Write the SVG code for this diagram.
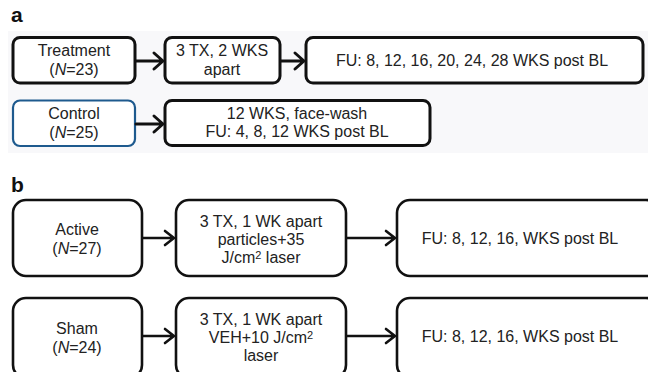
<svg xmlns="http://www.w3.org/2000/svg" width="648" height="372" viewBox="0 0 648 372">
<defs>
<style>
.bg{fill:#ffffff}
.pa{fill:#f8f8fa}
.box{fill:#ffffff;stroke:#111111;stroke-width:3}
.boxb{fill:#ffffff;stroke:#1e5a8e;stroke-width:2.2}
.bbox{fill:#ffffff;stroke:#111111;stroke-width:2.6}
.t{font-family:"Liberation Sans",Arial,sans-serif;font-size:16px;fill:#222222;text-anchor:middle}
.lbl{font-family:"Liberation Sans",Arial,sans-serif;font-size:21px;font-weight:bold;fill:#111111}
.con{fill:none;stroke:#111111;stroke-width:3;stroke-linecap:round;stroke-linejoin:round}
.conb{fill:none;stroke:#111111;stroke-width:2.6;stroke-linecap:round;stroke-linejoin:round}
</style>
</defs>
<rect class="bg" x="0" y="0" width="648" height="372"/>
<rect class="pa" x="8" y="31" width="640" height="122"/>
<text class="lbl" x="11" y="22">a</text>
<text class="lbl" x="11" y="192">b</text>

<g id="treatment"><rect class="box" x="13" y="37.5" width="122" height="45.5" rx="7"/>
<text class="t" x="74" y="56">Treatment</text>
<text class="t" x="74" y="75">(<tspan font-style="italic">N</tspan>=23)</text></g>
<g id="tx2wks"><rect class="box" x="165" y="37.5" width="115" height="45.5" rx="7"/>
<text class="t" x="222" y="56">3 TX, 2 WKS</text>
<text class="t" x="222" y="75">apart</text></g>
<g id="fu-a1"><rect class="box" x="306" y="37.5" width="337" height="45.5" rx="7"/>
<text class="t" x="472" y="66">FU: 8, 12, 16, 20, 24, 28 WKS post BL</text></g>
<g id="control"><rect class="boxb" x="13" y="100.5" width="122" height="45.5" rx="7"/>
<text class="t" x="74" y="119">Control</text>
<text class="t" x="74" y="138">(<tspan font-style="italic">N</tspan>=25)</text></g>
<g id="facewash"><rect class="box" x="165" y="100.5" width="265" height="45" rx="7"/>
<text class="t" x="297" y="119">12 WKS, face-wash</text>
<text class="t" x="297" y="137">FU: 4, 8, 12 WKS post BL</text></g>

<g id="active"><rect class="bbox" x="13" y="200" width="129" height="76" rx="13"/>
<text class="t" x="77" y="235">Active</text>
<text class="t" x="77" y="254">(<tspan font-style="italic">N</tspan>=27)</text></g>
<g id="active-tx"><rect class="bbox" x="176" y="200" width="170" height="76" rx="13"/>
<text class="t" x="261" y="227">3 TX, 1 WK apart</text>
<text class="t" x="261" y="245">particles+35</text>
<text class="t" x="261" y="263">J/cm<tspan font-size="11" dy="-4">2</tspan><tspan dy="4"> laser</tspan></text></g>
<g id="active-fu"><rect class="bbox" x="397" y="200" width="262" height="76" rx="13"/>
<text class="t" x="520" y="244">FU: 8, 12, 16, WKS post BL</text></g>
<g id="sham"><rect class="bbox" x="13" y="298" width="129" height="80" rx="13"/>
<text class="t" x="77" y="334">Sham</text>
<text class="t" x="77" y="353">(<tspan font-style="italic">N</tspan>=24)</text></g>
<g id="sham-tx"><rect class="bbox" x="176" y="298" width="170" height="80" rx="13"/>
<text class="t" x="261" y="325">3 TX, 1 WK apart</text>
<text class="t" x="261" y="343">VEH+10 J/cm<tspan font-size="11" dy="-4">2</tspan></text>
<text class="t" x="261" y="361">laser</text></g>
<g id="sham-fu"><rect class="bbox" x="397" y="298" width="262" height="80" rx="13"/>
<text class="t" x="520" y="342">FU: 8, 12, 16, WKS post BL</text></g>

<g id="connectors">
<path class="con" d="M136 61 H162 M154 53 L163 61 L154 69"/>
<path class="con" d="M281 61 H303 M295 53 L304 61 L295 69"/>
<path class="con" d="M136 124 H162 M154 116 L163 124 L154 132"/>
<path class="conb" d="M143 238 H173 M165 231 L174 238 L165 245"/>
<path class="conb" d="M347 238 H394 M386 231 L395 238 L386 245"/>
<path class="conb" d="M143 336 H173 M165 329 L174 336 L165 343"/>
<path class="conb" d="M347 336 H394 M386 329 L395 336 L386 343"/>
</g>
</svg>
